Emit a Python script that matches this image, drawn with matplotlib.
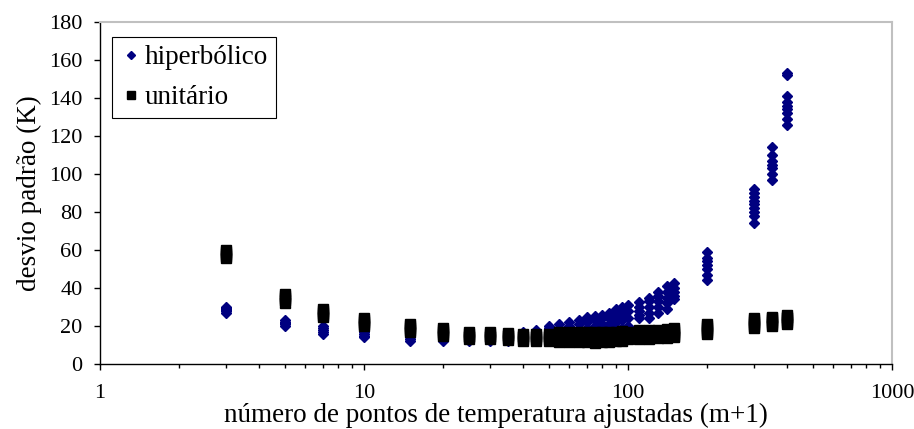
import matplotlib.pyplot as plt
from matplotlib.ticker import LogLocator, FixedLocator, NullFormatter

plt.rcParams['font.family'] = ['Liberation Serif', 'DejaVu Serif']

# numero de pontos ajustados (m+1)
x_vals = [3, 5, 7, 10, 15, 20, 25, 30, 35, 40, 45, 50, 55, 60, 65, 70, 75,
          80, 85, 90, 95, 100, 110, 120, 130, 140, 150, 200, 300, 350, 400]

# desvio padrao (K), varias corridas por ponto
hiper_vals = [
    [27, 28, 28.5, 29, 29.5, 30],
    [20, 21, 21.5, 22, 23],
    [16, 17, 18, 19, 20],
    [14, 15, 16, 17, 18],
    [12, 13, 14, 15, 16],
    [12, 13, 14, 15],
    [12, 13, 14, 15],
    [12, 13, 14, 15],
    [12, 13, 14, 15],
    [12.5, 14, 15.5, 17],
    [13, 14.5, 16, 18],
    [13, 15, 17, 19, 20],
    [13, 15, 17, 19, 21],
    [13.5, 16, 18, 20, 22],
    [14, 16, 18, 21, 23],
    [14, 17, 19, 22, 24.5],
    [14, 17, 20, 23, 25.5],
    [15, 18, 21, 24, 26],
    [15, 18, 21, 24, 27],
    [16, 19, 22, 26, 29],
    [16, 19, 23, 27, 30],
    [17, 20, 24, 28, 31],
    [24, 26, 28, 30, 32.5],
    [24, 27, 30, 33, 35],
    [27, 30, 33, 36, 38],
    [29, 32, 35, 38, 41],
    [34, 36, 38, 40, 42.5],
    [44, 47, 50, 52, 54, 56, 59],
    [74, 78, 80, 82, 84, 86, 88, 90, 92],
    [97, 100, 103, 105, 107, 110, 114],
    [126, 129, 132, 134, 136, 138, 141, 152, 153],
]

unit_vals = [
    [56, 57, 58, 59, 60],
    [32, 33.5, 35, 36, 37],
    [25, 26, 27, 28, 29],
    [20, 21, 22, 23, 24],
    [17, 18, 19, 20, 21],
    [15, 16, 17, 18, 19],
    [13, 14, 15, 16, 17],
    [13, 14, 15, 16, 17],
    [12.5, 13.5, 14.5, 15.5, 16.5],
    [12, 13, 14, 15, 16],
    [12, 13, 14, 15, 16],
    [12, 13, 14, 15, 16],
    [11.5, 13, 14.5, 16, 17],
    [11.5, 13, 14.5, 16, 17],
    [11.5, 13, 14.5, 16, 17],
    [11.5, 13, 14.5, 16, 17],
    [11, 12.5, 14, 15.5, 17],
    [11.5, 13, 14.5, 16, 17],
    [11.5, 13, 14.5, 16, 17],
    [12, 13, 14.5, 16, 17],
    [12, 13.5, 15, 16, 17.5],
    [13, 14, 15, 16, 17],
    [13, 14, 15, 16, 17, 18],
    [13, 14, 15, 16, 17, 18],
    [13.5, 14.5, 15.5, 16.5, 17.5, 18],
    [13.5, 14.5, 15.5, 16.5, 17.5, 18.5],
    [14, 15, 16, 17, 18, 19],
    [16, 17, 18, 19, 20, 21],
    [19, 20, 21, 22, 23, 24],
    [20, 21, 22, 23, 24, 25],
    [21, 22, 23, 24, 25, 26],
]

hx = [x for x, ys in zip(x_vals, hiper_vals) for _ in ys]
hy = [y for ys in hiper_vals for y in ys]
ux = [x for x, ys in zip(x_vals, unit_vals) for _ in ys]
uy = [y for ys in unit_vals for y in ys]

fig = plt.figure(figsize=(9.14, 4.29), dpi=100)
ax = fig.add_axes([0.1094, 0.1515, 0.8665, 0.7972])

ax.plot(hx, hy, linestyle='none', marker='D', markersize=5.4,
        color='#000080', label='hiperbólico')
ax.plot(ux, uy, linestyle='none', marker='s', markersize=7.2,
        color='black', label='unitário')

ax.set_xscale('log')
ax.set_xlim(1, 1000)
ax.set_ylim(0, 180)
ax.set_yticks(range(0, 181, 20))
ax.xaxis.set_major_locator(FixedLocator([1, 10, 100, 1000]))
ax.xaxis.set_minor_locator(LogLocator(base=10, subs=range(2, 10)))
ax.xaxis.set_minor_formatter(NullFormatter())
ax.set_xticklabels(['1', '10', '100', '1000'])

ax.tick_params(axis='both', which='major', direction='out', labelsize=16,
               width=1, color='black')
ax.tick_params(axis='x', which='major', length=4.5, pad=10)
ax.tick_params(axis='y', which='major', length=4.5, pad=8)
ax.tick_params(axis='x', which='minor', direction='out', length=3, width=1)

for s in ['top', 'right']:
    ax.spines[s].set_color('#c0c0c0')
    ax.spines[s].set_linewidth(1.5)
for s in ['left', 'bottom']:
    ax.spines[s].set_color('black')
    ax.spines[s].set_linewidth(1)

ax.set_xlabel('número de pontos de temperatura ajustadas (m+1)', fontsize=19.5,
              labelpad=0)
ax.set_ylabel('desvio padrão (K)', fontsize=19.5, labelpad=5)

leg = ax.legend(loc='upper left', bbox_to_anchor=(0.015, 0.956), fontsize=19.5,
                frameon=True, fancybox=False, framealpha=1, edgecolor='black',
                handletextpad=0.1, handlelength=0.8, borderpad=0.3,
                borderaxespad=0, labelspacing=0.55, markerscale=0.8)
leg.get_frame().set_linewidth(0.8)

fig.savefig('out.png', dpi=100)
